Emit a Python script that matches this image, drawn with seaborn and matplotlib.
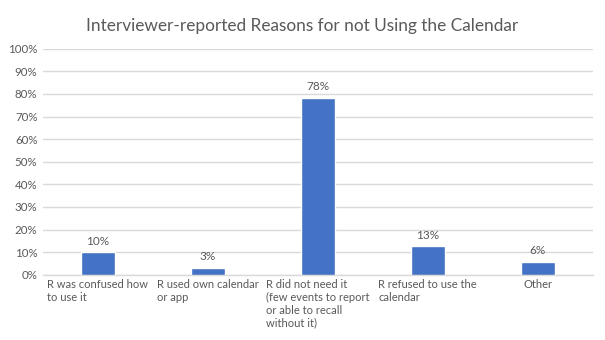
import matplotlib
matplotlib.use("Agg")
import matplotlib.pyplot as plt
import seaborn as sns
import pandas as pd

categories = [
    "R was confused how\nto use it",
    "R used own calendar\nor app",
    "R did not need it\n(few events to report\nor able to recall\nwithout it)",
    "R refused to use the\ncalendar",
    "Other",
]
values = [10.0, 3.1, 78.4, 12.6, 5.6]
yticks = [0, 10, 20, 30, 40, 50, 60, 70, 80, 90, 100]
title = "Interviewer-reported Reasons for not Using the Calendar"

sns.set_theme(style="white")
plt.rcParams["font.family"] = ["Lato", "DejaVu Sans"]

TXT = "#595959"
BAR = "#4472C4"
GRID = "#D9D9D9"

df = pd.DataFrame({"cat": categories, "val": values})

fig = plt.figure(figsize=(6.05, 3.4), dpi=100)
ax = fig.add_axes([43 / 605, 1 - 274.7 / 340, (592.5 - 43) / 605, (274.7 - 48.8) / 340])

sns.barplot(data=df, x="cat", y="val", color=BAR, width=0.31, saturation=1, ax=ax, zorder=3)

ax.set_ylim(0, 100)
ax.set_yticks(yticks)
ax.set_yticklabels([f"{t}%" for t in yticks], color=TXT, fontsize=8.3)
ax.set_xlim(-0.5, len(categories) - 0.5)
ax.set_xticks(range(len(categories)))
ax.set_xticklabels(categories, color=TXT, fontsize=8.0, multialignment="left", va="top", linespacing=1.2)
ax.tick_params(axis="both", length=0, pad=4)
ax.tick_params(axis="x", pad=3)
ax.set_xlabel("")
ax.set_ylabel("")

ax.grid(axis="y", color=GRID, linewidth=1, zorder=0)
for s in ["top", "right", "left"]:
    ax.spines[s].set_visible(False)
ax.spines["bottom"].set_color(GRID)
ax.spines["bottom"].set_linewidth(1)

for i, v in enumerate(values):
    ax.annotate(f"{round(v)}%", (i, v), xytext=(0, 4), textcoords="offset points",
                ha="center", va="bottom", color=TXT, fontsize=8.5)

fig.text(302 / 605, 1 - 26 / 340, title, ha="center", va="center", color=TXT, fontsize=12.4)

fig.savefig("out.png", dpi=100)
